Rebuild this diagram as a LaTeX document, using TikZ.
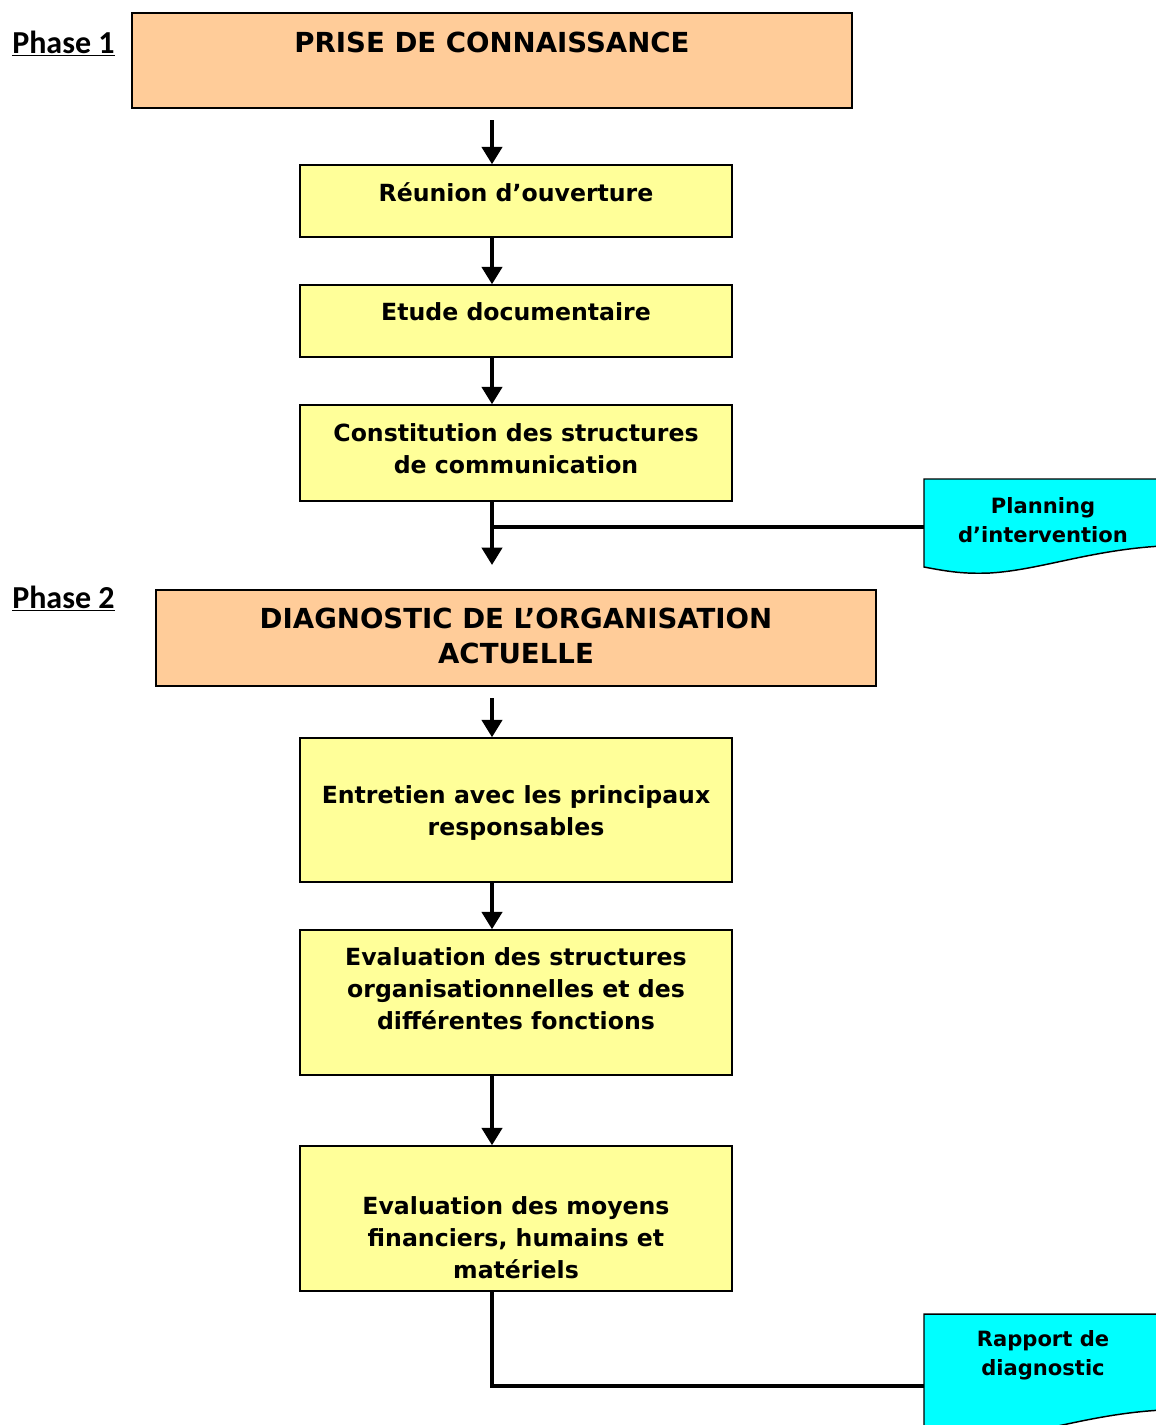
\documentclass[tikz,border=0pt]{standalone}
\usepackage{fontspec}
\setmainfont{DejaVu Sans}
\newfontfamily\phasefont{Carlito}
\usetikzlibrary{arrows.meta}
\definecolor{peach}{HTML}{FFCC99}
\definecolor{lyellow}{HTML}{FFFF99}
\definecolor{cyanfill}{HTML}{00FFFF}
\begin{document}
\begin{tikzpicture}[x=0.75pt,y=-0.75pt,
  phasebox/.style={draw=black, line width=1.1pt, fill=peach, minimum width=540pt, minimum height=72pt, inner sep=0pt},
  ybox/.style={draw=black, line width=1.1pt, fill=lyellow, minimum width=324pt, inner sep=0pt},
  ttext/.style={font=\bfseries\fontsize{20.7}{26}\selectfont, align=center, inner sep=0pt},
  ytext/.style={font=\bfseries\fontsize{17.7}{24}\selectfont, align=center, inner sep=0pt},
  dtext/.style={font=\bfseries\fontsize{15.8}{21.5}\selectfont, align=center, inner sep=0pt},
  ptext/.style={font=\phasefont\bfseries\fontsize{24}{28}\selectfont, inner sep=0pt, anchor=base west},
  docshape/.style={draw=black, line width=1.1pt, fill=cyanfill},
  conn/.style={line width=3pt, draw=black},
  arr/.style={conn, -{Triangle[length=13pt, width=15pt]}}
]
\useasboundingbox (0,0) rectangle (1156,1425);
\clip (0,0) rectangle (1156,1425);

% Phase labels
\node[ptext] (ph1) at (12,53) {\underline{Phase 1}};
\node[ptext] (ph2) at (12,608) {\underline{Phase 2}};

% Phase 1
\node[phasebox, minimum height=71.25pt] (p1) at (492,60.5) {};
\node[ttext] (p1t) at (492,42) {PRISE DE CONNAISSANCE};

\node[ybox, minimum height=54pt] (b1) at (516,201) {};
\node[ytext] (t1) at (516,192) {Réunion d’ouverture};

\node[ybox, minimum height=54pt] (b2) at (516,321) {};
\node[ytext] (t2) at (516,312) {Etude documentaire};

\node[ybox, minimum height=72pt] (b3) at (516,453) {};
\node[ytext] (t3) at (516,449) {Constitution des structures\\de communication};

% Planning document
\path[docshape] (924,479) -- (1162,479) -- (1162,546)
  .. controls (1090,550) and (1040,570) .. (990,573)
  .. controls (965,574) and (950,572) .. (924,567) -- cycle;
\node[dtext] (plan) at (1043,520) {Planning\\d’intervention};
\coordinate (pw) at (924,527);

% Phase 2
\node[phasebox] (p2) at (516,638) {};
\node[ttext] (p2t) at (516,636) {DIAGNOSTIC DE L’ORGANISATION\\ACTUELLE};

\node[ybox, minimum height=108pt] (b5) at (516,810) {};
\node[ytext] (t5) at (516,813) {Entretien avec les principaux\\responsables};

\node[ybox, minimum height=108.75pt] (b6) at (516,1002.5) {};
\node[ytext] (t6) at (516,989) {Evaluation des structures\\organisationnelles et des\\différentes fonctions};

\node[ybox, minimum height=108.75pt] (b7) at (516,1218.5) {};
\node[ytext] (t7) at (516,1238) {Evaluation des moyens\\financiers, humains et\\matériels};

% Rapport document
\path[docshape] (924,1314) -- (1162,1314) -- (1162,1410)
  .. controls (1090,1414) and (1040,1434) .. (990,1437)
  .. controls (965,1438) and (950,1436) .. (924,1431) -- cycle;
\node[dtext] (rap) at (1043,1355) {Rapport de\\diagnostic};
\coordinate (rw) at (924,1386);

% Connectors
\coordinate (a1) at (492,120);
\coordinate (a3) at (492,565);
\coordinate (j1) at (492,527);
\coordinate (a4) at (492,698);
\draw[arr] (a1) -- (a1 |- b1.north);
\draw[arr] (b1.south -| a1) -- (b2.north -| a1);
\draw[arr] (b2.south -| a1) -- (b3.north -| a1);
\draw[arr] (b3.south -| a1) -- (a3);
\draw[conn] (j1) -- (pw);
\draw[arr] (a4) -- (a4 |- b5.north);
\draw[arr] (b5.south -| a1) -- (b6.north -| a1);
\draw[arr] (b6.south -| a1) -- (b7.north -| a1);
\draw[conn] (b7.south -| a1) |- (rw);
\end{tikzpicture}
\end{document}
